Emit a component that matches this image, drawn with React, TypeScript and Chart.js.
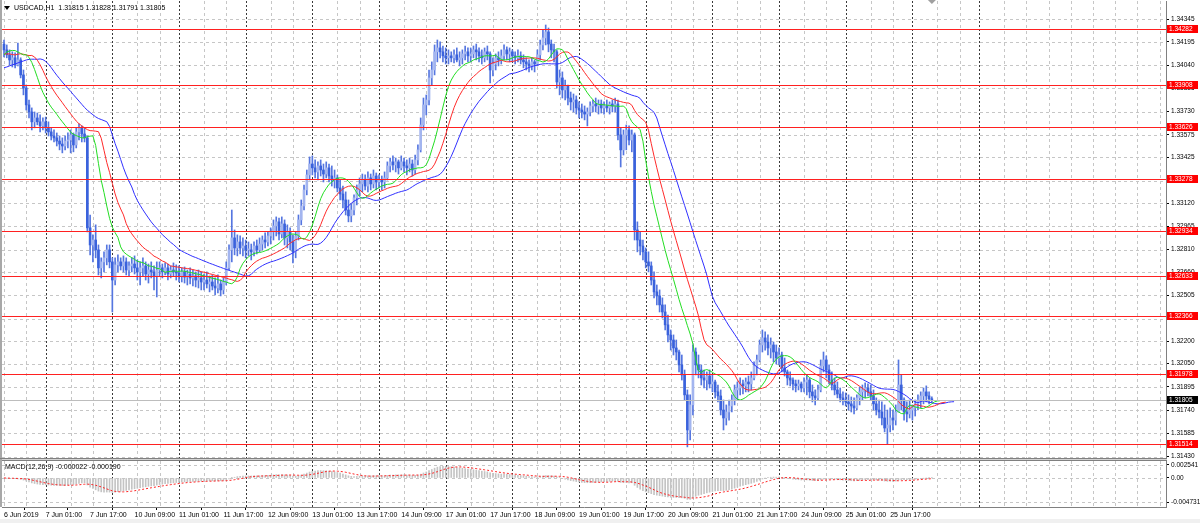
import React, { useEffect, useRef } from 'react';
import { Chart, registerables } from 'chart.js';

Chart.register(...registerables);

const SYMBOL = 'USDCAD,H1';
const FONT = 'Liberation Sans';

// H1 candles, 6 Jun 2019 10:00 .. 26 Jun 2019 08:00 (bar index = position)
const FIRST_OPEN = 1.3418;
const HIGH = [
  1.34208,1.34175,1.34142,1.34129,1.34122,1.34188,1.34089,1.34008,
  1.33908,1.33808,1.33755,1.33728,1.33721,1.33708,1.33688,1.33694,
  1.33662,1.33622,1.33608,1.33588,1.33568,1.33555,1.33568,1.33588,
  1.33608,1.33588,1.33622,1.33648,1.33635,1.33622,1.33568,1.33041,
  1.32908,1.32975,1.32841,1.32755,1.32795,1.32841,1.32841,1.32755,
  1.32755,1.32775,1.32755,1.32768,1.32755,1.32728,1.32755,1.32768,
  1.32741,1.32728,1.32755,1.32728,1.32714,1.32728,1.32701,1.32728,
  1.32728,1.32714,1.32721,1.32714,1.32701,1.32721,1.32708,1.32701,
  1.32688,1.32694,1.32674,1.32688,1.32674,1.32661,1.32674,1.32661,
  1.32647,1.32661,1.32634,1.32641,1.32621,1.32641,1.32607,1.32621,
  1.32728,1.32841,1.33074,1.32941,1.32908,1.32901,1.32888,1.32874,
  1.32861,1.32847,1.32861,1.32874,1.32888,1.32901,1.32921,1.32928,
  1.32955,1.33008,1.33028,1.33021,1.33028,1.33008,1.32975,1.32955,
  1.32908,1.32928,1.33041,1.33141,1.33241,1.33341,1.33428,1.33435,
  1.33408,1.33395,1.33408,1.33381,1.33395,1.33381,1.33368,1.33341,
  1.33308,1.33274,1.33234,1.33195,1.33141,1.33115,1.33175,1.33241,
  1.33288,1.33314,1.33308,1.33328,1.33314,1.33341,1.33321,1.33308,
  1.33301,1.33328,1.33395,1.33421,1.33435,1.33421,1.33408,1.33435,
  1.33421,1.33408,1.33421,1.33408,1.33441,1.33508,1.33688,1.33821,
  1.33841,1.34008,1.34062,1.34175,1.34208,1.34195,1.34168,1.34155,
  1.34142,1.34129,1.34142,1.34155,1.34129,1.34142,1.34168,1.34155,
  1.34155,1.34168,1.34181,1.34155,1.34142,1.34155,1.34168,1.34129,
  1.34089,1.34115,1.34129,1.34142,1.34175,1.34162,1.34155,1.34142,
  1.34129,1.34142,1.34129,1.34109,1.34089,1.34075,1.34089,1.34075,
  1.34142,1.34208,1.34275,1.34308,1.34288,1.34208,1.34181,1.34142,
  1.34008,1.33995,1.33941,1.33908,1.33861,1.33848,1.33835,1.33795,
  1.33781,1.33768,1.33755,1.33795,1.33808,1.33821,1.33808,1.33808,
  1.33795,1.33808,1.33795,1.33808,1.33821,1.33808,1.33622,1.33608,
  1.33641,1.33635,1.33608,1.33588,1.32995,1.32928,1.32874,1.32821,
  1.32795,1.32728,1.32661,1.32574,1.32541,1.32488,1.32441,1.32374,
  1.32274,1.32241,1.32207,1.3214,1.32107,1.32007,1.31874,1.31841,
  1.32174,1.32154,1.32107,1.32041,1.32007,1.31994,1.32007,1.31974,
  1.3194,1.31907,1.31874,1.31807,1.31774,1.31807,1.31841,1.31907,
  1.31927,1.31954,1.3194,1.31954,1.31967,1.31994,1.32061,1.32107,
  1.32207,1.32274,1.32261,1.32241,1.32221,1.32194,1.32174,1.32154,
  1.32127,1.32087,1.32007,1.31994,1.31954,1.3194,1.3194,1.31927,
  1.31954,1.31974,1.31954,1.31907,1.31874,1.31907,1.32074,1.32127,
  1.32101,1.32041,1.31994,1.31954,1.31927,1.31887,1.31861,1.31854,
  1.31841,1.31827,1.31821,1.31841,1.31894,1.31907,1.31921,1.31914,
  1.31907,1.31874,1.31821,1.31807,1.31794,1.31774,1.3174,1.31754,
  1.3174,1.31774,1.32074,1.31974,1.31821,1.31794,1.31807,1.31774,
  1.31807,1.31841,1.31861,1.31887,1.31901,1.31861,1.31828,
];
const LOW = [
  1.34095,1.34089,1.34042,1.34028,1.34022,1.34035,1.33955,1.33842,
  1.33741,1.33688,1.33608,1.33622,1.33642,1.33595,1.33608,1.33588,
  1.33568,1.33541,1.33528,1.33501,1.33475,1.33455,1.33475,1.33488,
  1.33455,1.33462,1.33488,1.33541,1.33528,1.33528,1.32928,1.32775,
  1.32728,1.32755,1.32641,1.32621,1.32661,1.32708,1.32688,1.32394,
  1.32574,1.32661,1.32674,1.32661,1.32641,1.32634,1.32661,1.32647,
  1.32607,1.32574,1.32634,1.32607,1.32587,1.32621,1.32541,1.32494,
  1.32634,1.32621,1.32641,1.32607,1.32621,1.32634,1.32607,1.32594,
  1.32594,1.32587,1.32574,1.32581,1.32567,1.32561,1.32554,1.32541,
  1.32541,1.32554,1.32528,1.32541,1.32508,1.32521,1.32501,1.32514,
  1.32574,1.32674,1.32728,1.32775,1.32768,1.32781,1.32768,1.32755,
  1.32768,1.32741,1.32768,1.32781,1.32795,1.32808,1.32821,1.32834,
  1.32847,1.32874,1.32901,1.32874,1.32888,1.32841,1.32821,1.32808,
  1.32721,1.32755,1.32874,1.32975,1.33074,1.33175,1.33274,1.33308,
  1.33288,1.33274,1.33301,1.33261,1.33288,1.33261,1.33234,1.33221,
  1.33195,1.33141,1.33088,1.33041,1.32995,1.32995,1.33041,1.33108,
  1.33168,1.33195,1.33208,1.33195,1.33208,1.33221,1.33208,1.33221,
  1.33208,1.33221,1.33274,1.33328,1.33341,1.33328,1.33314,1.33341,
  1.33328,1.33308,1.33328,1.33301,1.33314,1.33375,1.33461,1.33608,
  1.33708,1.33775,1.33908,1.33975,1.34062,1.34089,1.34062,1.34048,
  1.34048,1.34062,1.34055,1.34062,1.34035,1.34048,1.34075,1.34062,
  1.34062,1.34089,1.34075,1.34062,1.34048,1.34062,1.34075,1.33921,
  1.33968,1.34008,1.34035,1.34048,1.34075,1.34075,1.34062,1.34062,
  1.34048,1.34062,1.34048,1.34022,1.34008,1.33995,1.34008,1.33995,
  1.34035,1.34075,1.34142,1.34175,1.34129,1.34089,1.34062,1.33888,
  1.33842,1.33821,1.33808,1.33775,1.33741,1.33728,1.33714,1.33688,
  1.33688,1.33675,1.33635,1.33701,1.33728,1.33728,1.33714,1.33721,
  1.33714,1.33728,1.33714,1.33728,1.33728,1.33541,1.33361,1.33441,
  1.33475,1.33508,1.33462,1.32874,1.32795,1.32775,1.32741,1.32688,
  1.32661,1.32574,1.32488,1.32441,1.32394,1.32354,1.32274,1.32194,
  1.3214,1.32107,1.32074,1.31994,1.3194,1.31807,1.31494,1.3154,
  1.31707,1.31974,1.31954,1.31907,1.31887,1.31874,1.31887,1.31861,
  1.31821,1.31794,1.31707,1.31607,1.3164,1.31673,1.31727,1.31774,
  1.31807,1.31841,1.31847,1.31861,1.31861,1.31874,1.3194,1.31974,
  1.32061,1.32127,1.3214,1.32107,1.32087,1.32061,1.32047,1.32041,
  1.31994,1.31967,1.31907,1.31901,1.31874,1.31861,1.31874,1.31861,
  1.31861,1.31841,1.31821,1.31794,1.31774,1.31807,1.31861,1.31994,
  1.31954,1.31914,1.31874,1.31841,1.31821,1.31794,1.31774,1.31767,
  1.3174,1.31727,1.31714,1.3174,1.31774,1.31807,1.31821,1.31834,
  1.31807,1.3174,1.31707,1.31687,1.3164,1.31594,1.31514,1.31594,
  1.31607,1.3164,1.31727,1.3174,1.31673,1.3166,1.31687,1.31673,
  1.317,1.3174,1.31754,1.31781,1.31794,1.31781,1.31791,
];
const CLOSE = [
  1.34142,1.34109,1.34075,1.34089,1.34042,1.34075,1.33975,1.33888,
  1.33775,1.33728,1.33662,1.33688,1.33662,1.33635,1.33662,1.33622,
  1.33595,1.33568,1.33555,1.33534,1.33514,1.33501,1.33534,1.33541,
  1.33575,1.33508,1.33595,1.33622,1.33581,1.33555,1.32955,1.32841,
  1.32874,1.32808,1.32688,1.32728,1.32755,1.32808,1.32728,1.32607,
  1.32708,1.32728,1.32701,1.32728,1.32674,1.32701,1.32714,1.32688,
  1.32661,1.32688,1.32701,1.32647,1.32674,1.32661,1.32634,1.32674,
  1.32688,1.32661,1.32688,1.32647,1.32674,1.32661,1.32654,1.32634,
  1.32661,1.32627,1.32647,1.32621,1.32634,1.32607,1.32621,1.32594,
  1.32607,1.32581,1.32594,1.32567,1.32554,1.32581,1.32541,1.32594,
  1.32688,1.32808,1.32888,1.32821,1.32861,1.32821,1.32834,1.32808,
  1.32808,1.32795,1.32834,1.32808,1.32847,1.32874,1.32861,1.32901,
  1.32928,1.32968,1.32995,1.32914,1.32981,1.32888,1.32928,1.32861,
  1.32795,1.32901,1.33008,1.33101,1.33208,1.33308,1.33381,1.33355,
  1.33328,1.33368,1.33341,1.33314,1.33355,1.33301,1.33274,1.33288,
  1.33221,1.33181,1.33141,1.33074,1.33035,1.33074,1.33155,1.33208,
  1.33248,1.33274,1.33234,1.33288,1.33248,1.33301,1.33261,1.33274,
  1.33261,1.33288,1.33368,1.33395,1.33375,1.33395,1.33355,1.33395,
  1.33368,1.33355,1.33381,1.33341,1.33408,1.33475,1.33641,1.33775,
  1.33808,1.33955,1.34008,1.34129,1.34155,1.34129,1.34102,1.34089,
  1.34102,1.34089,1.34109,1.34075,1.34089,1.34115,1.34129,1.34102,
  1.34115,1.34142,1.34129,1.34102,1.34089,1.34129,1.34115,1.34008,
  1.34048,1.34089,1.34075,1.34102,1.34142,1.34115,1.34129,1.34102,
  1.34089,1.34102,1.34075,1.34062,1.34048,1.34035,1.34062,1.34048,
  1.34109,1.34175,1.34222,1.34262,1.34181,1.34142,1.34129,1.33928,
  1.33955,1.33875,1.33901,1.33821,1.33795,1.33808,1.33755,1.33741,
  1.33728,1.33714,1.33728,1.33768,1.33781,1.33768,1.33781,1.33755,
  1.33768,1.33755,1.33781,1.33768,1.33781,1.33575,1.33475,1.33575,
  1.33608,1.33541,1.33575,1.32941,1.32874,1.32834,1.32795,1.32728,
  1.32701,1.32607,1.32528,1.32501,1.32441,1.32394,1.32308,1.32241,
  1.32207,1.32154,1.32127,1.32041,1.31974,1.31841,1.31607,1.31774,
  1.32127,1.32041,1.32007,1.31954,1.3194,1.31967,1.31914,1.31927,
  1.31861,1.31834,1.3174,1.31687,1.31727,1.31767,1.31807,1.31874,
  1.31887,1.31914,1.31901,1.31927,1.31914,1.31954,1.32034,1.32074,
  1.32174,1.32221,1.32194,1.32154,1.32174,1.32127,1.32087,1.32107,
  1.32021,1.31994,1.31954,1.3194,1.31914,1.31901,1.31914,1.31887,
  1.31927,1.3194,1.31861,1.31834,1.31821,1.31874,1.32034,1.32074,
  1.32007,1.3194,1.31907,1.31874,1.31847,1.31821,1.31807,1.31794,
  1.31781,1.31767,1.31754,1.31821,1.31861,1.31874,1.31887,1.31861,
  1.31834,1.31781,1.3174,1.31727,1.31687,1.3162,1.3164,1.31687,
  1.31673,1.31727,1.31907,1.31807,1.31727,1.31714,1.3174,1.31754,
  1.31781,1.31807,1.31834,1.31861,1.31834,1.31815,1.31805,
];

// Alligator values read at the left edge (before the visible history is long enough)
const JAW_HEAD = [1.34023, 1.34028, 1.34035, 1.34042, 1.34048, 1.34055, 1.34062, 1.34068];
const TEETH_HEAD = [1.34115, 1.34115, 1.34115, 1.34111, 1.34108];
const LIPS_HEAD = [1.34108, 1.34128, 1.34135];

const LEVELS = [1.34282, 1.33908, 1.33626, 1.33278, 1.32934, 1.32633, 1.32366, 1.31978, 1.31514];
const PRICE_TICKS = [
  1.34345, 1.34195, 1.3404, 1.33885, 1.3373, 1.33575, 1.33425, 1.3327, 1.3312, 1.32965,
  1.3281, 1.3266, 1.32505, 1.3235, 1.322, 1.3205, 1.31895, 1.3174, 1.31585, 1.3143,
];
const LABEL_BARS = [0, 15, 31, 47, 63, 79, 95, 111, 127, 143, 159, 175, 191, 207, 223, 239, 255, 271, 287, 303, 319];
const TIME_LABELS = [
  '6 Jun 2019', '7 Jun 01:00', '7 Jun 17:00', '10 Jun 09:00', '11 Jun 01:00', '11 Jun 17:00',
  '12 Jun 09:00', '13 Jun 01:00', '13 Jun 17:00', '14 Jun 09:00', '17 Jun 01:00', '17 Jun 17:00',
  '18 Jun 09:00', '19 Jun 01:00', '19 Jun 17:00', '20 Jun 09:00', '21 Jun 01:00', '21 Jun 17:00',
  '24 Jun 09:00', '25 Jun 01:00', '25 Jun 17:00',
];
const SEPARATOR_BARS = [15, 39, 63, 87, 111, 135, 159, 183, 207, 231, 255, 279, 303, 327, 351];
const MACD_TICKS = [0.002541, 0, -0.004731];
const MACD_TICK_LABELS = ['0.002541', '0.00', '-0.004731'];
const MACD_TEXT = 'MACD(12,26,9) -0.000022 -0.000190';

const X_MIN = -0.72;
const X_MAX = 418.29;
const PRICE_MIN = 1.3142;
const PRICE_MAX = 1.34468;
const MACD_MIN = -0.00565;
const MACD_MAX = 0.00331;

const BULL = '#a3b5ef';
const BEAR = '#3a62dc';
const WICK = '#5576e0';
const JAW_COLOR = '#3030ff';
const TEETH_COLOR = '#ff2a2a';
const LIPS_COLOR = '#22dd22';
const LEVEL_COLOR = '#ff2020';

const OPEN = CLOSE.map((c, i) => (i === 0 ? FIRST_OPEN : CLOSE[i - 1]));
const MEDIAN = HIGH.map((h, i) => (h + LOW[i]) / 2);

function smmaLine(head: number[], n: number) {
  const shift = head.length;
  const pts = head.map((v, i) => ({ x: i, y: v }));
  let v = head[head.length - 1];
  MEDIAN.forEach((m, i) => {
    v = (v * (n - 1) + m) / n;
    pts.push({ x: i + shift, y: v });
  });
  return pts;
}

function ema(n: number) {
  const k = 2 / (n + 1);
  let v = CLOSE[0];
  return CLOSE.map((c) => (v = v + k * (c - v)));
}

const fmt5 = (v: number) => v.toFixed(5);

function drawVerticalGrid(ctx: CanvasRenderingContext2D, x: any, a: any) {
  ctx.lineWidth = 1;
  ctx.setLineDash([3, 3]);
  ctx.strokeStyle = '#c6c6c6';
  for (let b = 0; x.getPixelForValue(b) <= a.right; b += 8) {
    if (SEPARATOR_BARS.some((s) => Math.abs(s - b) < 3)) continue;
    const px = Math.round(x.getPixelForValue(b)) + 0.5;
    ctx.beginPath();
    ctx.moveTo(px, a.top);
    ctx.lineTo(px, a.bottom);
    ctx.stroke();
  }
  ctx.strokeStyle = '#3a3a3a';
  ctx.setLineDash([2, 2]);
  for (const b of SEPARATOR_BARS) {
    const px = Math.round(x.getPixelForValue(b)) + 0.5;
    ctx.beginPath();
    ctx.moveTo(px, a.top);
    ctx.lineTo(px, a.bottom);
    ctx.stroke();
  }
}

function drawHorizontalGrid(ctx: CanvasRenderingContext2D, y: any, a: any, values: number[]) {
  ctx.lineWidth = 1;
  ctx.setLineDash([3, 3]);
  ctx.strokeStyle = '#c6c6c6';
  for (const v of values) {
    const py = Math.round(y.getPixelForValue(v)) + 0.5;
    ctx.beginPath();
    ctx.moveTo(a.left, py);
    ctx.lineTo(a.right, py);
    ctx.stroke();
  }
}

const mainPlugin = {
  id: 'mtMain',
  beforeDatasetsDraw(chart: any) {
    const { ctx, chartArea: a, scales } = chart;
    ctx.save();
    ctx.beginPath();
    ctx.rect(a.left, a.top, a.right - a.left, a.bottom - a.top);
    ctx.clip();
    drawHorizontalGrid(ctx, scales.y, a, PRICE_TICKS);
    drawVerticalGrid(ctx, scales.x, a);
    ctx.restore();
  },
  afterDatasetsDraw(chart: any) {
    const { ctx, chartArea: a, scales } = chart;
    const y = scales.y;
    ctx.save();
    ctx.setLineDash([]);
    ctx.lineWidth = 1;
    const last = CLOSE[CLOSE.length - 1];
    ctx.strokeStyle = '#bdbdbd';
    let py = Math.round(y.getPixelForValue(last)) + 0.5;
    ctx.beginPath();
    ctx.moveTo(a.left, py);
    ctx.lineTo(a.right, py);
    ctx.stroke();
    ctx.strokeStyle = LEVEL_COLOR;
    for (const v of LEVELS) {
      py = Math.round(y.getPixelForValue(v)) + 0.5;
      ctx.beginPath();
      ctx.moveTo(a.left, py);
      ctx.lineTo(a.right, py);
      ctx.stroke();
    }
    ctx.restore();
  },
  afterDraw(chart: any) {
    const { ctx, chartArea: a, scales } = chart;
    const y = scales.y;
    ctx.save();
    ctx.font = `6.5px "${FONT}"`;
    ctx.textBaseline = 'middle';
    ctx.textAlign = 'left';
    const box = (v: number, bg: string) => {
      const py = Math.round(y.getPixelForValue(v));
      ctx.fillStyle = bg;
      ctx.fillRect(a.right + 1, py - 4, 31, 8);
      ctx.fillStyle = '#ffffff';
      ctx.fillText(fmt5(v), a.right + 3, py + 0.5);
    };
    for (const v of LEVELS) box(v, '#ff0000');
    box(CLOSE[CLOSE.length - 1], '#000000');

    // left frame
    ctx.fillStyle = '#a8a8a8';
    ctx.fillRect(0, 0, 2, a.bottom);
    // bottom frame of price panel
    ctx.fillStyle = '#808080';
    ctx.fillRect(0, a.bottom, a.right + 1, 1);

    // header
    const n = CLOSE.length - 1;
    ctx.fillStyle = '#000';
    ctx.beginPath();
    ctx.moveTo(4, 6);
    ctx.lineTo(10, 6);
    ctx.lineTo(7, 10);
    ctx.closePath();
    ctx.fill();
    ctx.font = `7px "${FONT}"`;
    ctx.fillText(`${SYMBOL}  ${fmt5(OPEN[n])} ${fmt5(HIGH[n])} ${fmt5(LOW[n])} ${fmt5(CLOSE[n])}`, 14, 8.5);

    // chart shift marker
    const sx = scales.x.getPixelForValue(n);
    ctx.fillStyle = '#a0a0a0';
    ctx.beginPath();
    ctx.moveTo(sx - 4, 0);
    ctx.lineTo(sx + 4, 0);
    ctx.lineTo(sx, 4);
    ctx.closePath();
    ctx.fill();
    ctx.restore();
  },
};

const macdPlugin = {
  id: 'mtMacd',
  beforeDatasetsDraw(chart: any) {
    const { ctx, chartArea: a, scales } = chart;
    ctx.save();
    ctx.beginPath();
    ctx.rect(a.left, a.top, a.right - a.left, a.bottom - a.top);
    ctx.clip();
    drawHorizontalGrid(ctx, scales.y, a, MACD_TICKS);
    drawVerticalGrid(ctx, scales.x, a);
    ctx.restore();
  },
  afterDraw(chart: any) {
    const { ctx, chartArea: a, width, height } = chart;
    ctx.save();
    ctx.fillStyle = '#d4d4d4';
    ctx.fillRect(0, 0, a.right + 1, 1);
    ctx.fillStyle = '#808080';
    ctx.fillRect(0, 1, a.right + 1, 1);
    ctx.fillStyle = '#a8a8a8';
    ctx.fillRect(0, 0, 2, a.bottom);
    ctx.fillStyle = '#f0f0f0';
    ctx.fillRect(0, height - 4, width, 4);
    ctx.fillStyle = '#000';
    ctx.font = `7px "${FONT}"`;
    ctx.textBaseline = 'middle';
    ctx.textAlign = 'left';
    ctx.fillText(MACD_TEXT, 5, a.top + 6);
    ctx.restore();
  },
};

export default function App() {
  const mainRef = useRef<HTMLCanvasElement | null>(null);
  const macdRef = useRef<HTMLCanvasElement | null>(null);

  useEffect(() => {
    document.body.style.margin = '0';
    document.body.style.background = '#ffffff';

    const wickData = HIGH.map((h, i) => ({ x: i, y: [LOW[i], h] }));
    const bodyData = CLOSE.map((c, i) => ({ x: i, y: [OPEN[i], c] }));
    const bodyColors = CLOSE.map((c, i) => (c >= OPEN[i] ? BULL : BEAR));

    const yFit = (s: any) => {
      s.width = 34;
      s.paddingTop = 0;
      s.paddingBottom = 0;
    };

    const main = new Chart(mainRef.current as HTMLCanvasElement, {
      type: 'bar',
      data: {
        datasets: [
          {
            type: 'line',
            data: smmaLine(LIPS_HEAD, 5),
            borderColor: LIPS_COLOR,
            borderWidth: 1,
            pointRadius: 0,
            order: 1,
          } as any,
          {
            type: 'line',
            data: smmaLine(TEETH_HEAD, 8),
            borderColor: TEETH_COLOR,
            borderWidth: 1,
            pointRadius: 0,
            order: 1,
          } as any,
          {
            type: 'line',
            data: smmaLine(JAW_HEAD, 13),
            borderColor: JAW_COLOR,
            borderWidth: 1,
            pointRadius: 0,
            order: 1,
          } as any,
          {
            type: 'bar',
            data: bodyData as any,
            backgroundColor: bodyColors,
            barThickness: 2,
            minBarLength: 1,
            grouped: false,
            borderWidth: 0,
            order: 2,
          } as any,
          {
            type: 'bar',
            data: wickData as any,
            backgroundColor: WICK,
            barThickness: 1,
            grouped: false,
            borderWidth: 0,
            order: 3,
          } as any,
        ],
      },
      options: {
        animation: false,
        responsive: false,
        maintainAspectRatio: false,
        events: [],
        layout: { padding: { left: 2, top: 1, right: 0, bottom: 5 } },
        plugins: { legend: { display: false }, tooltip: { enabled: false } },
        scales: {
          x: { type: 'linear', min: X_MIN, max: X_MAX, display: false, offset: false },
          y: {
            type: 'linear',
            position: 'right',
            min: PRICE_MIN,
            max: PRICE_MAX,
            afterBuildTicks: (s: any) => {
              s.ticks = PRICE_TICKS.map((v) => ({ value: v }));
            },
            afterFit: yFit,
            ticks: {
              color: '#000',
              padding: 2,
              font: { family: FONT, size: 6.5 },
              callback: (v: any) => Number(v).toFixed(5),
            },
            grid: { display: true, drawOnChartArea: false, drawTicks: true, tickLength: 3, tickColor: '#000' },
            border: { display: true, color: '#808080' },
          },
        },
      } as any,
      plugins: [mainPlugin],
    });

    const e12 = ema(12);
    const e26 = ema(26);
    const macd = e12.map((v, i) => v - e26[i]);
    const signal = macd.map((_, i) => {
      const from = Math.max(0, i - 8);
      const part = macd.slice(from, i + 1);
      return part.reduce((s, v) => s + v, 0) / part.length;
    });

    const macdChart = new Chart(macdRef.current as HTMLCanvasElement, {
      type: 'bar',
      data: {
        datasets: [
          {
            type: 'line',
            data: signal.map((v, i) => ({ x: i, y: v })),
            borderColor: '#ff2020',
            borderWidth: 1,
            borderDash: [2, 2],
            pointRadius: 0,
            order: 1,
          } as any,
          {
            type: 'bar',
            data: macd.map((v, i) => ({ x: i, y: v })),
            backgroundColor: '#c4c4c4',
            barThickness: 1,
            grouped: false,
            borderWidth: 0,
            order: 2,
          } as any,
        ],
      },
      options: {
        animation: false,
        responsive: false,
        maintainAspectRatio: false,
        events: [],
        layout: { padding: { left: 2, top: 2, right: 0, bottom: 0 } },
        plugins: { legend: { display: false }, tooltip: { enabled: false } },
        scales: {
          x: {
            type: 'linear',
            min: X_MIN,
            max: X_MAX,
            offset: false,
            position: 'bottom',
            afterBuildTicks: (s: any) => {
              s.ticks = LABEL_BARS.map((v) => ({ value: v }));
            },
            afterFit: (s: any) => {
              s.height = 16;
              s.paddingLeft = 0;
              s.paddingRight = 0;
            },
            ticks: {
              color: '#000',
              padding: 1,
              align: 'start',
              autoSkip: false,
              maxRotation: 0,
              minRotation: 0,
              font: { family: FONT, size: 7 },
              callback: (_v: any, i: number) => TIME_LABELS[i],
            },
            grid: { display: true, drawOnChartArea: false, drawTicks: true, tickLength: 3, tickColor: '#000' },
            border: { display: true, color: '#808080' },
          },
          y: {
            type: 'linear',
            position: 'right',
            min: MACD_MIN,
            max: MACD_MAX,
            afterBuildTicks: (s: any) => {
              s.ticks = MACD_TICKS.map((v) => ({ value: v }));
            },
            afterFit: yFit,
            ticks: {
              color: '#000',
              padding: 2,
              font: { family: FONT, size: 6.5 },
              callback: (_v: any, i: number) => MACD_TICK_LABELS[i],
            },
            grid: { display: true, drawOnChartArea: false, drawTicks: true, tickLength: 3, tickColor: '#000' },
            border: { display: true, color: '#808080' },
          },
        },
      } as any,
      plugins: [macdPlugin],
    });

    return () => {
      main.destroy();
      macdChart.destroy();
    };
  }, []);

  return (
    <div style={{ position: 'relative', width: 1200, height: 523, background: '#fff', overflow: 'hidden' }}>
      <canvas
        ref={mainRef}
        width={1200}
        height={463}
        style={{ position: 'absolute', left: 0, top: 0, width: 1200, height: 463 }}
      />
      <canvas
        ref={macdRef}
        width={1200}
        height={64}
        style={{ position: 'absolute', left: 0, top: 459, width: 1200, height: 64 }}
      />
    </div>
  );
}
